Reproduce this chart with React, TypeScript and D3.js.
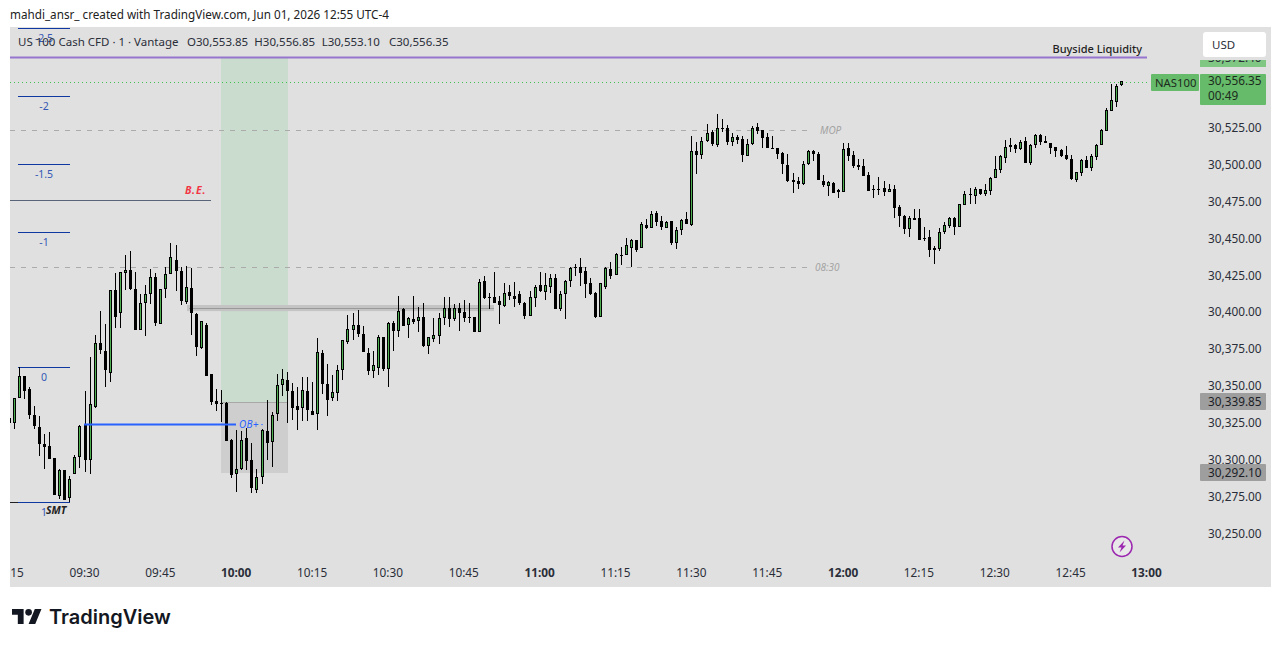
import { useRef, useEffect } from "react";
import * as d3 from "d3";

const WIDTH = 1281;
const HEIGHT = 647;

// one-minute candles, first one is 09:15. Values are offsets from 30,000
const BASE = 30000;
const firstMinute = 555;

const opens = [
  327.8,324.4,341.8,356.5,347.7,330.1,321.9,310.2,309.1,300.7,275.4,292.8,274,289.8,301.4,
  323.3,299.8,335.7,378.7,373.5,358.8,414.8,399,426.6,428.4,
  415.3,387.9,405.8,412.3,423.6,392,415.3,425.9,435.2,427.7,
  406.7,416.2,398.5,375.7,391.1,357.9,339.6,338.4,338.2,313.1,
  290.3,293.2,314.2,299.6,279.4,288.3,319.2,311.5,330.5,350.2,
  353.8,346.1,335.9,334.6,346.1,332.7,330.7,371.9,351.1,341.8,
  345.2,360.4,379.8,387.9,391.1,385,372.1,359.9,362.2,383,
  361.3,392.2,387,401.7,391.3,395.2,394,396.3,376.9,381.6,
  383.6,395.8,402.4,395.4,402.4,399.7,396.3,396.3,386.3,420.9,
  410.1,410.1,407.1,404.2,413.5,410.8,412.1,406,397.2,409.6,
  418.2,413.5,416.9,423,401.9,412.3,421.1,430.4,430.4,427.7,
  419.6,412.8,396.7,416.9,429.1,424.8,438.3,438.3,443.6,448.6,
  443.1,458.7,457.1,466.9,461.4,457.1,461.4,447,455.3,462.8,
  459.2,508.9,506.2,515.7,522,513.4,524.5,524.5,515,518.6,
  517,505.5,513.9,525.1,523.1,518.6,511.1,510.9,507.7,499.4,
  489.2,488.5,486.7,500,508.9,507,488.5,485.4,487.2,481,
  481.5,510.9,506.2,499.6,498.9,492.8,483.3,483.3,483.8,481.5,
  483.3,471.1,465,456.2,463.7,463.7,449.9,450.8,443.3,442.6,
  454.2,458.2,463.7,457.8,472.7,479.9,478.8,483.1,479.9,482.2,
  491,496.2,504.6,512.9,513.1,510.4,515.9,500.9,513.1,519.9,
  515.9,514.3,511.6,509.8,506.4,503.7,489.4,494.2,503,497.8,
  505,513.4,522.6,536.4,542.3,553.85,
];

const highs = [
  328.5,341.4,362.4,356.5,348.8,336.4,329.4,317.2,318.5,300.7,293.5,292.8,288.7,302.9,323.3,
  346.3,369.6,384.1,400.6,391.8,414.8,426.1,427.2,438.5,441.3,
  427.2,412.1,418.2,428.8,426.6,415.3,430.6,446.5,445.3,430.6,
  431.1,429.5,399,393.8,392.2,357.9,347.5,347,338.7,313.6,
  319.9,319.4,321,310.9,293.5,320.6,340.2,332.3,357.6,361,
  359.2,351.5,349.3,355.8,355.5,352.2,382.3,374.1,364.6,357.2,
  364,380.9,397.9,399,401.3,390.4,375.5,373.5,384.1,383.2,
  392.9,393.6,410.8,402.8,396.3,410.8,403.3,405.8,383.2,395.6,
  399,410.1,410.1,405.3,406,408,405.8,396.7,422.1,424.3,
  412.6,427,410.8,419.6,418.2,420.2,414.1,406.7,414.1,418.2,
  427,426.3,425.7,425.7,414.1,421.6,430.4,432.4,436.5,430.4,
  423,413.5,419.6,430.2,433.8,439.9,444.2,449.9,449.2,448.8,
  460.8,463,468.2,468.4,464.8,461.7,461.9,457.6,462.8,467.8,
  519.3,515.2,518.4,527.4,523.4,534.2,530.8,526.7,521.3,520,
  519.3,517.2,526,528,523.4,521.3,519.3,511.1,508.4,507,
  494.1,491.4,502.3,509.8,509.8,508.4,492.8,488.7,488,483.3,
  514.5,514.5,509.1,503.7,503.7,494.8,486,491.4,488.7,486.7,
  486,472.5,465.7,465,469.8,469.8,457.6,455.5,444.7,456.9,
  460.9,464.3,464.3,473.1,482,484,484.4,483.3,486.7,491.5,
  505.7,506.4,516.5,517.9,513.8,516.5,518.6,513.8,520.6,520.6,
  519.3,514.5,511.8,510.4,512.5,506.4,494.8,503.7,505.7,507,
  513.8,524,538.2,554.5,554.5,556.85,
];

const lows = [
  323.5,320.6,341.8,340.9,327.4,320.4,302.5,293.5,300.2,275.8,273.1,272.4,271.3,289.8,294.4,
  291.6,290.3,335,371.2,349.3,352.4,389.3,389.3,414.8,414.8,
  387.9,387.9,383.9,405.6,390.6,392,409.2,425.9,414.4,404.6,
  405.3,384.3,370.3,374.8,356.7,336.8,333,325.5,312.7,287.1,
  278.1,292.8,292.8,277,277,283.3,299.6,295,326.2,343.2,
  324.4,326.7,319.9,325.9,326.2,330,319.8,344.2,329.3,339.6,
  339.6,353.8,378.2,380.9,383.2,372.6,357.2,355.2,357.2,359.9,
  349.3,373.5,383.2,390.4,382.3,391.8,386.3,376.2,371.4,379.8,
  378.2,391.1,389.7,393.8,387,393.1,392.7,386.3,386.3,408.7,
  401.7,406,391.8,403.3,408,403.3,404.9,395.2,397.2,403.3,
  413.5,408,412.8,401.9,400.6,395.2,416.9,424.3,417.5,409.4,
  411.4,395.8,396.7,415.5,422.3,424.8,431.8,438.3,430.7,440.9,
  443.1,456.2,457.1,458,455.6,456.9,445.2,442.9,452.2,459.4,
  458.5,493.5,503.7,515.2,512.5,511.8,522,513,512.5,513.9,
  501.6,505.5,513.2,520.6,511.1,511.1,510.6,503.7,493.5,488,
  480.6,483.3,486,499.6,502.3,489.4,484.7,478.5,480.6,477.2,
  481.5,502.3,497.5,496.2,492.1,481.9,477.2,479.2,478.5,481.5,
  463.6,457.5,452.8,450.8,462.3,448.7,448.1,437.2,432.5,441.3,
  452.8,456.9,452.1,457.8,472.7,473.1,473.1,479.2,478.6,479.2,
  491,494.2,500.9,508.4,507.7,509.8,500.9,499.6,511.1,513.1,
  514.5,507,505,505,503,489.4,488.1,492.1,497.6,495.5,
  503,513.1,522.6,536.4,538.9,553.1,
];

const closes = [
  324.4,341.4,356.5,346.6,330.1,322.6,310.6,308.4,300.2,275.8,292.8,272.4,286.7,301.4,322.6,
  299.8,337.5,378.7,374.1,360.6,414.6,396.7,426.8,428.4,415.5,
  387.9,406,411.9,423.6,392.7,415.3,425.7,437,427.9,407.6,
  416.9,399,376.4,393.8,356.7,339.1,337.8,337.6,312.7,289.4,
  293.2,312.9,299.1,280.8,287.8,319.7,311.3,329.8,350.2,354.3,
  346.6,335,333.7,346.8,333.4,330,372.6,350.9,340.2,345.4,
  360.4,380.9,388.2,390.9,385,372.6,359.9,363.7,383,361.3,
  392.2,387,400.4,390.4,395.6,393.1,396.3,376.6,382.7,384.1,
  395.8,402.4,395.2,402.4,399.5,395.8,395.8,386.3,420.2,409.4,
  409.6,406,404.9,412.6,410.8,408.7,406,397.2,410.1,416.9,
  414.1,418.2,423,401.9,412.1,420.9,429.7,429.7,426.3,418.9,
  412.1,396.5,419.3,429.7,424.5,439.2,437.8,445.2,448.6,442.2,
  459.4,456.9,466.2,461.2,457.6,460.8,446.5,455.3,462.1,459.4,
  508.9,506.2,515.7,521.3,513.9,524.5,524,515,518.4,516.4,
  506.2,513.6,524.5,522.6,517.9,511.1,510.6,506.8,500,488.7,
  488.3,486.7,500,508.9,507.3,489.4,486,487.8,480.6,482.4,
  510.2,505.7,498.9,498.2,492.1,481.9,482.9,482.9,481.3,483,
  470.4,465,456.2,463.4,462.3,448.7,449.4,442,442,453.9,
  458.7,463.7,457.6,472.9,479.9,479.5,483.3,479.9,482.4,490.5,
  496.9,505.7,511.6,511.8,510.4,515.2,500.9,512.9,519.9,515.2,
  514.7,511.1,509.1,505.7,503.7,490.1,494.6,503,497.6,505.7,
  512.9,523.1,536.7,543.4,553.2,556.35,
];

const priceTicks = [30525, 30500, 30475, 30450, 30425, 30400, 30375, 30350, 30325, 30300, 30275, 30250];
const timeTicks = ["09:15", "09:30", "09:45", "10:00", "10:15", "10:30", "10:45", "11:00", "11:15", "11:30", "11:45", "12:00", "12:15", "12:30", "12:45", "13:00"];

const fibLabels = ["-2.5", "-2", "-1.5", "-1", "0", "1"];
const fibPrices = [30592.5, 30546.4, 30500.25, 30454.1, 30362.6, 30271];

const legendParts = ["O30,553.85", "H30,556.85", "L30,553.10", "C30,556.35"];

const lastPrice = 30556.35;
const lastLine = 30555.6;
const buysidePrice = 30572.4;
const entryPrice = 30339.85;
const stopPrice = 30292.1;
const stopBoxPrice = 30290.7;
const obPrice = 30323.5;
const bePrice = 30475.8;
const mopPrice = 30523;
const openLevelPrice = 30430.5;
const bandHigh = 30404.6;
const bandLow = 30400.5;
const bandMid = 30402.4;

const toMinute = (t: string) => {
  const [h, m] = t.split(":").map(Number);
  return h * 60 + m;
};

export default function App() {
  const svgRef = useRef<SVGSVGElement>(null);

  useEffect(() => {
    if (!svgRef.current) return;
    const svg = d3.select(svgRef.current);
    svg.selectAll("*").remove();

    const uiFont = "'Noto Sans', sans-serif";
    const x = d3.scaleLinear().domain([570, 780]).range([85, 1147]);
    const y = d3.scaleLinear().domain([30250, 30525]).range([533, 127.5]);
    const fmt = d3.format(",.2f");

    const defs = svg.append("defs");
    defs.append("clipPath").attr("id", "pane").append("rect")
      .attr("x", 10).attr("y", 27).attr("width", 1190).attr("height", 533);
    defs.append("clipPath").attr("id", "timeAxis").append("rect")
      .attr("x", 10).attr("y", 560).attr("width", 1190).attr("height", 27);
    defs.append("clipPath").attr("id", "topTag").append("rect")
      .attr("x", 1200).attr("y", 60).attr("width", 66).attr("height", 7);

    svg.append("rect").attr("width", WIDTH).attr("height", HEIGHT).attr("fill", "#fff");
    svg.append("rect").attr("x", 10).attr("y", 27).attr("width", 1261).attr("height", 560).attr("fill", "#e0e0e0");

    svg.append("text").attr("x", 10).attr("y", 19)
      .attr("font-family", uiFont).attr("font-size", "11.7px").attr("fill", "#222")
      .text("mahdi_ansr_ created with TradingView.com, Jun 01, 2026 12:55 UTC-4");

    const pane = svg.append("g").attr("clip-path", "url(#pane)");

    // long position box
    const boxL = 221;
    const boxW = 67;
    const entryY = Math.round(y(entryPrice)) + 1;
    pane.append("rect").attr("x", boxL).attr("y", y(buysidePrice)).attr("width", boxW)
      .attr("height", entryY - y(buysidePrice)).attr("fill", "#c9dccd");
    pane.append("rect").attr("x", boxL).attr("y", entryY).attr("width", boxW)
      .attr("height", y(stopBoxPrice) - entryY).attr("fill", "#cecece");
    pane.append("line").attr("x1", boxL).attr("x2", boxL + boxW)
      .attr("y1", entryY + 0.5).attr("y2", entryY + 0.5)
      .attr("stroke", "#a8a8a8");

    // gray band
    pane.append("rect").attr("x", 187).attr("y", y(bandHigh)).attr("width", 307)
      .attr("height", y(bandLow) - y(bandHigh)).attr("fill", "#c4c4c4");
    pane.append("line").attr("x1", 189).attr("x2", 494)
      .attr("y1", Math.round(y(bandMid)) + 0.5).attr("y2", Math.round(y(bandMid)) + 0.5)
      .attr("stroke", "#999");

    // dashed session levels
    const dashed = [
      { price: mopPrice, x2: 812, label: "MOP", lx: 820 },
      { price: openLevelPrice, x2: 809, label: "08:30", lx: 815 },
    ];
    dashed.forEach((d) => {
      const ly = Math.round(y(d.price)) + 0.5;
      pane.append("line").attr("x1", 10).attr("x2", d.x2).attr("y1", ly).attr("y2", ly)
        .attr("stroke", "#ababab").attr("stroke-dasharray", "5 6");
      pane.append("text").attr("x", d.lx).attr("y", ly).attr("dy", "0.35em")
        .attr("font-family", uiFont).attr("font-size", "10px").attr("font-style", "italic")
        .attr("fill", "#a3a3a3").text(d.label);
    });

    // green last price line
    pane.append("line").attr("x1", 10).attr("x2", 1150)
      .attr("y1", Math.round(y(lastLine)) + 0.5).attr("y2", Math.round(y(lastLine)) + 0.5)
      .attr("stroke", "#3fc24f").attr("stroke-dasharray", "1 3").attr("shape-rendering", "crispEdges");

    // fib levels
    fibPrices.forEach((p, i) => {
      const ly = Math.round(y(p)) + 0.5;
      pane.append("line").attr("x1", 18).attr("x2", 70).attr("y1", ly).attr("y2", ly)
        .attr("stroke", "#0f38a0");
      pane.append("text").attr("x", 44).attr("y", ly + 10).attr("dy", "0.35em")
        .attr("text-anchor", "middle").attr("font-family", uiFont).attr("font-size", "10.5px")
        .attr("fill", "#3558b5").text(fibLabels[i]);
    });
    pane.append("line").attr("x1", 10).attr("x2", 18)
      .attr("y1", Math.round(y(30271)) + 0.5).attr("y2", Math.round(y(30271)) + 0.5).attr("stroke", "#222");

    // B.E.
    pane.append("line").attr("x1", 10).attr("x2", 211)
      .attr("y1", Math.round(y(bePrice)) + 0.5).attr("y2", Math.round(y(bePrice)) + 0.5)
      .attr("stroke", "#5a6478");
    pane.append("text").attr("x", 185).attr("y", y(bePrice) - 6.5)
      .attr("font-family", uiFont).attr("font-size", "10.5px").attr("font-style", "italic").attr("font-weight", 700)
      .attr("letter-spacing", "0.8px").attr("fill", "#f23645").text("B.E.");

    // candles
    const minutes = closes.map((_, i) => firstMinute + i);
    const candles = pane.append("g").attr("shape-rendering", "crispEdges");
    minutes.forEach((m, i) => {
      const cx = Math.floor(x(m));
      const o = BASE + opens[i];
      const c = BASE + closes[i];
      const top = Math.round(y(Math.max(o, c)));
      const bot = Math.round(y(Math.min(o, c)));
      candles.append("rect").attr("x", cx).attr("width", 1)
        .attr("y", Math.round(y(BASE + highs[i])))
        .attr("height", Math.max(1, Math.round(y(BASE + lows[i])) - Math.round(y(BASE + highs[i]))))
        .attr("fill", "#000");
      candles.append("rect").attr("x", cx - 1).attr("width", 3)
        .attr("y", top).attr("height", Math.max(1, bot - top)).attr("fill", "#000");
      if (c >= o && bot - top > 2) {
        candles.append("rect").attr("x", cx).attr("width", 1)
          .attr("y", top + 1).attr("height", bot - top - 2).attr("fill", "#4caf50");
      }
    });

    // order block
    pane.append("line").attr("x1", 84).attr("x2", 236)
      .attr("y1", y(obPrice)).attr("y2", y(obPrice)).attr("stroke", "#2962ff").attr("stroke-width", 2);
    pane.append("line").attr("x1", 261).attr("x2", 263)
      .attr("y1", y(obPrice)).attr("y2", y(obPrice)).attr("stroke", "#5c86ff").attr("stroke-width", 1);
    pane.append("text").attr("x", 239).attr("y", y(obPrice)).attr("dy", "0.35em")
      .attr("font-family", uiFont).attr("font-size", "10px").attr("font-style", "italic")
      .attr("letter-spacing", "0.3px").attr("fill", "#2962ff").text("OB+");

    pane.append("text").attr("x", 46).attr("y", 514)
      .attr("font-family", uiFont).attr("font-size", "10.5px").attr("font-style", "italic").attr("font-weight", 700)
      .attr("fill", "#222").text("SMT");

    // buyside liquidity
    pane.append("line").attr("x1", 10).attr("x2", 1147)
      .attr("y1", y(buysidePrice)).attr("y2", y(buysidePrice))
      .attr("stroke", "#9575cd").attr("stroke-width", 2);
    pane.append("text").attr("x", 1142).attr("y", 53).attr("text-anchor", "end")
      .attr("font-family", uiFont).attr("font-size", "11px").attr("font-weight", 500)
      .attr("fill", "#222").text("Buyside Liquidity");

    // legend
    const legend = svg.append("g").attr("font-family", uiFont).attr("font-size", "11.5px").attr("fill", "#2a2e39");
    legend.append("text").attr("x", 18).attr("y", 46).text("US 100 Cash CFD · 1 · Vantage");
    const legendX = d3.scalePoint<string>().domain(legendParts).range([187, 389]);
    legend.selectAll("text.ohlc").data(legendParts).join("text").attr("class", "ohlc")
      .attr("x", (d) => legendX(d) ?? 0).attr("y", 46).text((d) => d);

    // price axis
    svg.append("g").selectAll("text").data(priceTicks).join("text")
      .attr("x", 1208).attr("y", (d) => y(d) + 0.5).attr("dy", "0.35em")
      .attr("font-family", uiFont).attr("font-size", "11.8px").attr("fill", "#2a2e39")
      .text((d) => fmt(d));

    // position labels
    [
      { p: entryPrice, shift: 1 },
      { p: stopPrice, shift: 1.6 },
    ].forEach(({ p, shift }) => {
      const py = y(p) + shift;
      svg.append("rect").attr("x", 1200).attr("y", py - 8.5).attr("width", 66).attr("height", 17)
        .attr("rx", 1).attr("fill", "#9e9e9e");
      svg.append("text").attr("x", 1208).attr("y", py).attr("dy", "0.35em")
        .attr("font-family", uiFont).attr("font-size", "11.8px").attr("fill", "#1c1f27").text(fmt(p));
    });

    // top tag hidden behind the USD button
    svg.append("rect").attr("x", 1200).attr("y", 60).attr("width", 66).attr("height", 7).attr("fill", "#81c784");
    svg.append("text").attr("x", 1208).attr("y", y(buysidePrice)).attr("dy", "0.35em")
      .attr("clip-path", "url(#topTag)")
      .attr("font-family", uiFont).attr("font-size", "11.8px").attr("fill", "#2a2e39").text(fmt(buysidePrice));

    // last price tag
    svg.append("rect").attr("x", 1151).attr("y", 74).attr("width", 48).attr("height", 17).attr("rx", 1).attr("fill", "#66bb6a");
    svg.append("text").attr("x", 1155).attr("y", 83).attr("dy", "0.35em")
      .attr("font-family", uiFont).attr("font-size", "11.3px").attr("fill", "#1c2b1e").text("NAS100");
    svg.append("rect").attr("x", 1200).attr("y", 74).attr("width", 66).attr("height", 31).attr("rx", 1).attr("fill", "#66bb6a");
    svg.append("text").attr("x", 1208).attr("y", y(lastPrice)).attr("dy", "0.35em")
      .attr("font-family", uiFont).attr("font-size", "11.8px").attr("fill", "#1c2b1e").text(fmt(lastPrice));
    svg.append("text").attr("x", 1208).attr("y", 95.5).attr("dy", "0.35em")
      .attr("font-family", uiFont).attr("font-size", "11.8px").attr("fill", "#1c2b1e").text("00:49");

    // USD button
    svg.append("rect").attr("x", 1203).attr("y", 32).attr("width", 63).attr("height", 25).attr("rx", 3).attr("fill", "#fff");
    svg.append("text").attr("x", 1212).attr("y", 45).attr("dy", "0.35em")
      .attr("font-family", uiFont).attr("font-size", "11.5px").attr("fill", "#2a2e39").text("USD");

    // time axis
    svg.append("g").attr("clip-path", "url(#timeAxis)")
      .selectAll("text").data(timeTicks).join("text")
      .attr("x", (d) => x(toMinute(d)) - 0.5).attr("y", 573).attr("dy", "0.35em")
      .attr("text-anchor", "middle").attr("font-family", uiFont).attr("font-size", "11.8px")
      .attr("font-weight", (d) => (d.endsWith(":00") ? 700 : 400)).attr("fill", "#2a2e39")
      .text((d) => d);

    // lightning badge
    const badge = svg.append("g").attr("transform", "translate(1122,546.5)");
    badge.append("circle").attr("r", 10).attr("fill", "#e8e8e8").attr("stroke", "#9c27b0").attr("stroke-width", 1.5);
    badge.append("path").attr("d", "M2.5 -6 L-4 1 L-0.5 1 L-2.5 6 L4 -1 L0.5 -1 Z").attr("fill", "#9c27b0");

    // TradingView logo
    const logo = svg.append("g").attr("transform", "translate(12,605.7) scale(0.83)").attr("fill", "#131722");
    logo.append("path").attr("d", "M14 22H7V11H0V4h14v18zM28 22h-8l7.5-18h8L28 22z");
    logo.append("circle").attr("cx", 20).attr("cy", 8).attr("r", 4);
    svg.append("text").attr("x", 49).attr("y", 624)
      .attr("font-family", "Inter, sans-serif").attr("font-size", "20px").attr("font-weight", 600)
      .attr("fill", "#131722").text("TradingView");
  }, []);

  return <svg ref={svgRef} width={WIDTH} height={HEIGHT} style={{ position: "fixed", left: 0, top: 0, display: "block" }} />;
}
